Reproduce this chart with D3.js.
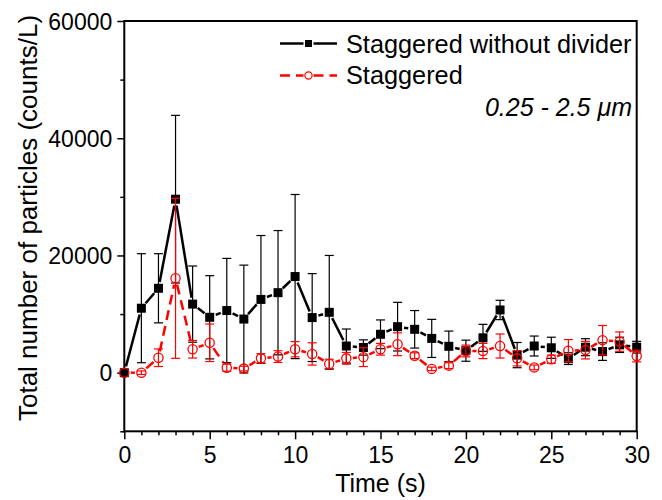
<!DOCTYPE html>
<html><head><meta charset="utf-8">
<script src="https://cdn.jsdelivr.net/npm/d3@7"></script>
<style>
html,body{margin:0;padding:0;background:#fff;}
svg{display:block;font-family:"Liberation Sans",Arial,sans-serif;}
</style></head>
<body>
<svg id="chart" width="662" height="500"></svg>
<script>
const times = d3.range(0, 31);
const blackValues = [0, 11000, 14400, 29600, 11700, 9450, 10600, 9150, 12500, 13650, 16400, 9400, 10300, 4550, 4300, 6550, 7850, 7400, 5850, 4500, 3750, 5950, 10700, 3000, 4550, 4250, 2400, 4350, 3600, 4750, 4350];
const blackErrors = [0, 9300, 5900, 14300, 6500, 7100, 8900, 9200, 10900, 10600, 14000, 7500, 9700, 2900, 1300, 2450, 4150, 3200, 3250, 2600, 1800, 2300, 1650, 2150, 1700, 1800, 1000, 1450, 1500, 1300, 1000];
const redValues = [0, 0, 2550, 16100, 4000, 5100, 850, 700, 2450, 2750, 4000, 3200, 1500, 2450, 2650, 4000, 4850, 2900, 650, 1200, 3700, 3700, 4550, 2450, 900, 2300, 3750, 3850, 5550, 5300, 2850];
const redErrors = [0, 300, 1500, 13650, 1500, 3200, 600, 400, 800, 1000, 1300, 1900, 800, 1000, 1600, 1000, 1950, 500, 300, 500, 1000, 1300, 2050, 1300, 400, 700, 1900, 1500, 2500, 1650, 1000];
const seriesNames = ["Staggered without divider", "Staggered"];
const xTicks = [0, 5, 10, 15, 20, 25, 30];
const yTicks = [0, 20000, 40000, 60000];
const sizeLabel = "0.25 - 2.5 \u03bcm";
const xTitle = "Time (s)";
const yTitle = "Total number of particles (counts/L)";

const svg = d3.select("#chart");
const L = 124.3, R = 636.7, T = 21, B = 431.3;
const x = d3.scaleLinear().domain([0, 30]).range([L, R]);
const y = d3.scaleLinear().domain([-10000, 60000]).range([B, T]);

// axes
const xMajor = d3.axisBottom(x).tickValues(xTicks).tickSize(8).tickFormat(d3.format("d"));
const xMinor = d3.axisBottom(x).tickValues(d3.range(0, 31).filter(d => d % 5)).tickSize(4).tickFormat("");
const yMajor = d3.axisLeft(y).tickValues(yTicks).tickSize(7).tickFormat(d3.format("d"));
const yMinor = d3.axisLeft(y).tickValues([-10000, 10000, 30000, 50000]).tickSize(4).tickFormat("");

function styleAxis(g) {
  g.select(".domain").remove();
  g.selectAll("line").attr("stroke", "#000").attr("stroke-width", 1.5);
  g.selectAll("text").attr("fill", "#000").style("font-size", "23px");
}
svg.append("g").attr("transform", `translate(0,${B})`).call(xMinor).call(styleAxis);
svg.append("g").attr("transform", `translate(0,${B})`).call(xMajor).call(styleAxis)
  .selectAll("text").attr("dy", "0.9em");
svg.append("g").attr("transform", `translate(${L},0)`).call(yMinor).call(styleAxis);
svg.append("g").attr("transform", `translate(${L},0)`).call(yMajor).call(styleAxis)
  .selectAll("text").attr("x", -12).attr("dy", "0.35em");

// frame
svg.append("rect").attr("x", L).attr("y", T).attr("width", R - L).attr("height", B - T)
  .attr("fill", "none").attr("stroke", "#000").attr("stroke-width", 2);

// titles
svg.append("text").attr("x", (L + R) / 2).attr("y", 492).attr("text-anchor", "middle")
  .style("font-size", "25px").text(xTitle);
svg.append("text").attr("transform", "translate(37,218) rotate(-90)").attr("text-anchor", "middle")
  .style("font-size", "26px").text(yTitle);

function gappedSegments(vals, gap) {
  const pts = vals.map((v, i) => [x(times[i]), y(v)]);
  const segs = [];
  for (let i = 0; i < pts.length - 1; i++) {
    const [x1, y1] = pts[i], [x2, y2] = pts[i + 1];
    const dx = x2 - x1, dy = y2 - y1, len = Math.hypot(dx, dy);
    if (len <= 2 * gap) continue;
    const ux = dx / len, uy = dy / len;
    segs.push([x1 + ux * gap, y1 + uy * gap, x2 - ux * gap, y2 - uy * gap]);
  }
  return segs;
}

function drawSeries(vals, errs, color, dash, marker) {
  const g = svg.append("g");
  g.selectAll("line.seg").data(gappedSegments(vals, 6.5)).join("line")
    .attr("x1", d => d[0]).attr("y1", d => d[1]).attr("x2", d => d[2]).attr("y2", d => d[3])
    .attr("stroke", color).attr("stroke-width", 2.5).attr("stroke-dasharray", dash);
  const eb = g.selectAll("g.eb").data(vals.map((v, i) => ({ t: times[i], v, e: errs[i] })).filter(d => d.e > 0)).join("g");
  eb.append("line").attr("x1", d => x(d.t)).attr("x2", d => x(d.t))
    .attr("y1", d => y(d.v - d.e)).attr("y2", d => y(d.v + d.e)).attr("stroke", color).attr("stroke-width", 1.2);
  [1, -1].forEach(s => {
    eb.append("line").attr("x1", d => x(d.t) - 4.5).attr("x2", d => x(d.t) + 4.5)
      .attr("y1", d => y(d.v + s * d.e)).attr("y2", d => y(d.v + s * d.e)).attr("stroke", color).attr("stroke-width", 1.2);
  });
  if (marker === "square") {
    g.selectAll("rect").data(vals).join("rect")
      .attr("x", (v, i) => x(times[i]) - 4.5).attr("y", v => y(v) - 4.5)
      .attr("width", 9).attr("height", 9).attr("fill", "#000");
  } else {
    g.selectAll("circle").data(vals).join("circle")
      .attr("cx", (v, i) => x(times[i])).attr("cy", v => y(v)).attr("r", 4.6)
      .attr("fill", "none").attr("stroke", color).attr("stroke-width", 1.3);
  }
}
drawSeries(blackValues, blackErrors, "#000", null, "square");
drawSeries(redValues, redErrors, "#ff0000", "10,6", "circle");

// legend
const lg = svg.append("g");
const lx1 = 280, lx2 = 337, lm = 308.5;
lg.append("line").attr("x1", lx1).attr("x2", lm - 5).attr("y1", 43.5).attr("y2", 43.5).attr("stroke", "#000").attr("stroke-width", 2.5);
lg.append("line").attr("x1", lm + 5).attr("x2", lx2).attr("y1", 43.5).attr("y2", 43.5).attr("stroke", "#000").attr("stroke-width", 2.5);
lg.append("rect").attr("x", lm - 3.5).attr("y", 40).attr("width", 7).attr("height", 7).attr("fill", "#000");
lg.append("text").attr("x", 346).attr("y", 52.5).style("font-size", "25.3px").text(seriesNames[0]);
lg.append("line").attr("x1", lx1).attr("x2", lm - 5).attr("y1", 75.5).attr("y2", 75.5).attr("stroke", "#ff0000").attr("stroke-width", 2.5).attr("stroke-dasharray", "10,6");
lg.append("line").attr("x1", lm + 5).attr("x2", lx2).attr("y1", 75.5).attr("y2", 75.5).attr("stroke", "#ff0000").attr("stroke-width", 2.5).attr("stroke-dasharray", "10,6");
lg.append("circle").attr("cx", lm).attr("cy", 75.5).attr("r", 3.6).attr("fill", "#fff").attr("stroke", "#ff0000").attr("stroke-width", 1.2);
lg.append("text").attr("x", 346).attr("y", 84).style("font-size", "25.3px").text(seriesNames[1]);

svg.append("text").attr("x", 632).attr("y", 116).attr("text-anchor", "end")
  .style("font-size", "25px").style("font-style", "italic").text(sizeLabel);
</script>
</body></html>
